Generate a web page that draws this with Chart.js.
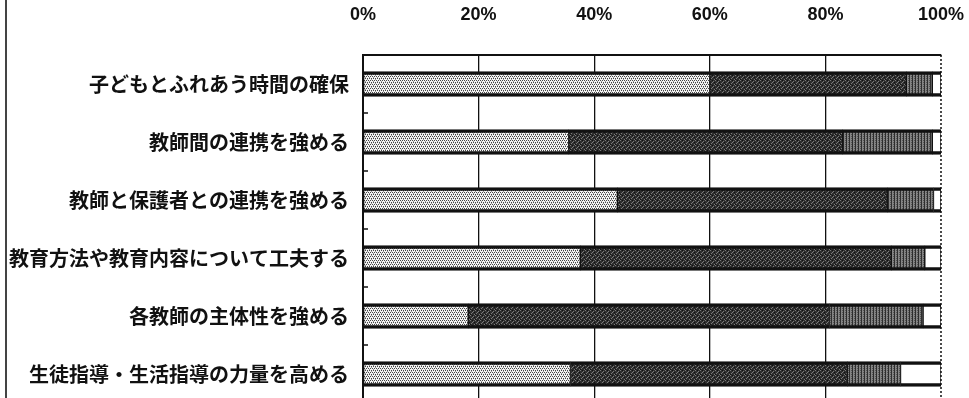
<!DOCTYPE html>
<html>
<head>
<meta charset="utf-8">
<script src="https://cdn.jsdelivr.net/npm/chart.js@4/dist/chart.umd.min.js"></script>
<style>
  html, body { margin: 0; padding: 0; background: #fff; overflow: hidden; }
  #wrap { position: relative; width: 969px; height: 403px; }
  #frame { position: absolute; left: 5px; top: 0; width: 1.5px; height: 403px; background: #444; }
</style>
</head>
<body>
<div id="wrap">
  <canvas id="c" width="969" height="403"></canvas>
  <div id="frame"></div>
</div>
<script>
const categories = [
  "子どもとふれあう時間の確保",
  "教師間の連携を強める",
  "教師と保護者との連携を強める",
  "教育方法や教育内容について工夫する",
  "各教師の主体性を強める",
  "生徒指導・生活指導の力量を高める"
];
const seriesNames = ["区分1", "区分2", "区分3", "区分4"];
const series1 = [60.0, 35.6, 44.0, 37.6, 18.2, 35.9];
const series2 = [34.0, 47.4, 46.7, 53.8, 62.5, 47.9];
const series3 = [4.5, 15.5, 8.0, 5.8, 16.2, 9.2];
const series4 = [1.5, 1.5, 1.3, 2.8, 3.1, 7.0];
const xTicks = [0, 20, 40, 60, 80, 100];

function makePattern(w, h, draw) {
  const t = document.createElement('canvas');
  t.width = w; t.height = h;
  const g = t.getContext('2d');
  draw(g);
  return document.getElementById('c').getContext('2d').createPattern(t, 'repeat');
}
const lightPat = makePattern(4, 4, g => {
  g.fillStyle = '#f4f4f4'; g.fillRect(0, 0, 4, 4);
  g.fillStyle = '#444';
  [[0,0],[2,0],[1,2],[3,2]].forEach(p => g.fillRect(p[0], p[1], 1, 1));
  g.fillStyle = '#999';
  [[1,1],[3,3]].forEach(p => g.fillRect(p[0], p[1], 1, 1));
});
const darkPat = makePattern(5, 5, g => {
  g.fillStyle = '#2e2e2e'; g.fillRect(0, 0, 5, 5);
  g.fillStyle = '#7a7a7a';
  [[0,0],[3,1],[1,3],[4,4],[2,2]].forEach(p => g.fillRect(p[0], p[1], 1, 1));
  g.fillStyle = '#111';
  [[2,0],[0,4],[4,2]].forEach(p => g.fillRect(p[0], p[1], 1, 1));
});
const stripePat = makePattern(3, 2, g => {
  g.fillStyle = '#858585'; g.fillRect(0, 0, 3, 2);
  g.fillStyle = '#2e2e2e'; g.fillRect(0, 0, 1, 2);
  g.fillStyle = '#555'; g.fillRect(2, 0, 1, 1);
});

const fills = [lightPat, darkPat, stripePat, '#ffffff'];
const dataSets = [series1, series2, series3, series4];

const extras = {
  id: 'extras',
  afterDatasetsDraw(chart) {
    const ctx = chart.ctx;
    const xs = chart.scales.x, ys = chart.scales.y;
    const area = chart.chartArea;
    ctx.save();
    const x100 = xs.getPixelForValue(100);
    ctx.strokeStyle = '#111';
    ctx.lineWidth = 1.5;
    ctx.setLineDash([2, 2]);
    ctx.beginPath();
    ctx.moveTo(x100, area.top);
    ctx.lineTo(x100, area.bottom);
    ctx.stroke();
    ctx.setLineDash([]);
    ctx.lineWidth = 1.5;
    for (let i = 0; i < categories.length - 1; i++) {
      const y = (ys.getPixelForValue(i) + ys.getPixelForValue(i + 1)) / 2;
      ctx.beginPath();
      ctx.moveTo(area.left, y);
      ctx.lineTo(area.left + 5, y);
      ctx.stroke();
    }
    ctx.restore();
  }
};

new Chart(document.getElementById('c'), {
  type: 'bar',
  data: {
    labels: categories,
    datasets: dataSets.map((d, i) => ({
      label: seriesNames[i],
      data: d,
      backgroundColor: fills[i],
      borderColor: '#111',
      borderWidth: { top: 3.5, bottom: 3.5, left: 1, right: 1 },
      borderSkipped: false,
      barThickness: 25
    }))
  },
  options: {
    indexAxis: 'y',
    responsive: false,
    animation: false,
    layout: { padding: { top: 0, right: 28, left: 0, bottom: 0 } },
    plugins: { legend: { display: false }, tooltip: { enabled: false } },
    scales: {
      x: {
        position: 'top',
        stacked: true,
        min: 0, max: 100,
        afterBuildTicks: s => { s.ticks = xTicks.map(v => ({ value: v })); },
        afterFit: s => { s.height = 55; s.paddingLeft = 0; s.paddingRight = 0; },
        ticks: {
          padding: 29,
          color: '#111',
          font: { family: '"Liberation Sans", Arial, sans-serif', size: 18, weight: 'bold' },
          callback: v => v + '%'
        },
        grid: {
          drawTicks: false,
          lineWidth: 1.3,
          color: c => (c.tick && c.tick.value === 100) ? 'rgba(0,0,0,0)' : '#111'
        },
        border: { display: true, color: '#111', width: 2 }
      },
      y: {
        stacked: true,
        afterFit: s => { s.width = 363; s.paddingTop = 0; s.paddingBottom = 0; },
        ticks: {
          padding: 14,
          color: '#111',
          font: { family: '"Noto Sans CJK JP", sans-serif', size: 20, weight: 'bold' }
        },
        grid: { display: false, drawTicks: false },
        border: { display: true, color: '#111', width: 2 }
      }
    }
  },
  plugins: [extras]
});
</script>
</body>
</html>
